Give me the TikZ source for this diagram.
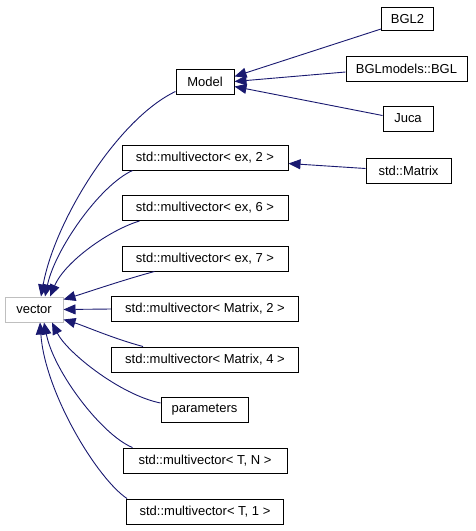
\documentclass[tikz,border=0pt]{standalone}
\usepackage{fontspec}
\setmainfont{Liberation Sans}
\usetikzlibrary{arrows.meta}
\definecolor{edgeblue}{HTML}{191970}
\begin{document}
\begin{tikzpicture}[x=1pt,y=-1pt,
    cls/.style={draw=black,line width=1pt,minimum height=25pt,inner sep=0pt,
      font=\fontsize{13}{15}\selectfont},
    base/.style={cls,draw=black!25},
    inherit/.style={edgeblue,line width=0.9pt,-{Triangle[length=12pt,width=10pt]}}]
    \useasboundingbox (0,0) rectangle (476,531);
    % base class
    \node[base,minimum width=58pt] (vector) at (34,309.5) {vector};
    % first level
    \node[cls,minimum width=58pt] (model) at (205,81.5) {Model};
    \node[cls,minimum width=166pt] (extwo) at (205,157.5) {std::multivector< ex, 2 >};
    \node[cls,minimum width=166pt] (exsix) at (205,208) {std::multivector< ex, 6 >};
    \node[cls,minimum width=166pt] (exseven) at (205,258.5) {std::multivector< ex, 7 >};
    \node[cls,minimum width=187pt] (mattwo) at (205,309) {std::multivector< Matrix, 2 >};
    \node[cls,minimum width=187pt] (matfour) at (205,359.5) {std::multivector< Matrix, 4 >};
    \node[cls,minimum width=87pt] (params) at (204.5,410) {parameters};
    \node[cls,minimum width=164pt] (tn) at (205,460.5) {std::multivector< T, N >};
    \node[cls,minimum width=157pt] (tone) at (205,511.5) {std::multivector< T, 1 >};
    % second level
    \node[cls,minimum width=52pt,minimum height=23pt] (bgltwo) at (407.5,19) {BGL2};
    \node[cls,minimum width=121pt] (bgl) at (406.5,69) {BGLmodels::BGL};
    \node[cls,minimum width=50pt] (juca) at (408,118.5) {Juca};
    \node[cls,minimum width=85pt] (matrix) at (408.5,170.5) {std::Matrix};
    % edges to vector
    \draw[inherit] ([yshift=3pt]model.south west) .. controls +(-57,27) and +(14,-77) .. ([xshift=7pt]vector.north);
    \draw[inherit] ([xshift=11pt]extwo.south west) .. controls +(-33,15) and +(10,-47) .. ([xshift=11pt]vector.north);
    \draw[inherit] ([xshift=18pt]exsix.south west) .. controls +(-30,9) and +(15,-35) .. ([xshift=16pt]vector.north);
    \draw[inherit] ([xshift=33pt]exseven.south west) .. controls +(-30,8) and +(20,-6) .. ([yshift=-3pt]vector.north east);
    \draw[inherit] (mattwo.west) -- (vector.east);
    \draw[inherit] ([xshift=32pt]matfour.north west) .. controls +(-30,-8) and +(20,6) .. ([yshift=3pt]vector.south east);
    \draw[inherit] ([yshift=7pt]params.west) .. controls +(-40,-8) and +(15,30) .. ([xshift=18pt]vector.south);
    \draw[inherit] ([xshift=10pt]tn.north west) .. controls +(-30,-12) and +(10,50) .. ([xshift=10pt]vector.south);
    \draw[inherit] ([xshift=1pt]tone.north west) .. controls +(-30,-20) and +(5,70) .. ([xshift=6pt]vector.south);
    % edges to Model and ex,2
    \draw[inherit] ([yshift=2pt]bgltwo.south west) -- ([yshift=5pt]model.east);
    \draw[inherit] ([yshift=-3pt]bgl.west) -- (model.east);
    \draw[inherit] ([yshift=3pt]juca.west) -- ([yshift=-5pt]model.east);
    \draw[inherit] ([yshift=2pt]matrix.west) -- ([yshift=-6pt]extwo.east);
\end{tikzpicture}
\end{document}
